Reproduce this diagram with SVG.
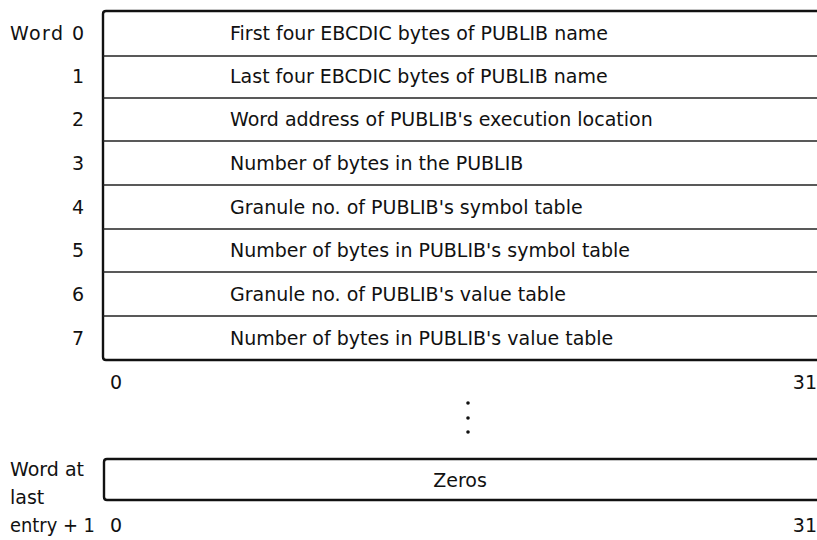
<svg xmlns="http://www.w3.org/2000/svg" width="817" height="540" viewBox="0 0 817 540">
<style>
text{font-family:"DejaVu Sans","Liberation Sans",sans-serif;font-size:19px;fill:#111}
.b{fill:none;stroke:#111;stroke-width:2.4}
.r{stroke:#222;stroke-width:1.6}
.e{text-anchor:end}
</style>
<rect width="817" height="540" fill="#fff"/>
<g id="table">
<path class="b" d="M820 11 H106 Q103 11 103 14 V357 Q103 360 106 360 H820"/>
<g id="dividers">
<line class="r" x1="103" y1="56" x2="817" y2="56"/>
<line class="r" x1="103" y1="98" x2="817" y2="98"/>
<line class="r" x1="103" y1="141" x2="817" y2="141"/>
<line class="r" x1="103" y1="185" x2="817" y2="185"/>
<line class="r" x1="103" y1="229" x2="817" y2="229"/>
<line class="r" x1="103" y1="272" x2="817" y2="272"/>
<line class="r" x1="103" y1="316" x2="817" y2="316"/>
</g>
</g>
<g id="w0"><text x="10" y="40" textLength="74" lengthAdjust="spacing">Word 0</text><text x="230" y="40">First four EBCDIC bytes of PUBLIB name</text></g>
<g id="w1"><text class="e" x="84" y="83">1</text><text x="230" y="83">Last four EBCDIC bytes of PUBLIB name</text></g>
<g id="w2"><text class="e" x="84" y="126">2</text><text x="230" y="126">Word address of PUBLIB's execution location</text></g>
<g id="w3"><text class="e" x="84" y="170">3</text><text x="230" y="170">Number of bytes in the PUBLIB</text></g>
<g id="w4"><text class="e" x="84" y="214">4</text><text x="230" y="214">Granule no. of PUBLIB's symbol table</text></g>
<g id="w5"><text class="e" x="84" y="257">5</text><text x="230" y="257">Number of bytes in PUBLIB's symbol table</text></g>
<g id="w6"><text class="e" x="84" y="301">6</text><text x="230" y="301">Granule no. of PUBLIB's value table</text></g>
<g id="w7"><text class="e" x="84" y="345">7</text><text x="230" y="345">Number of bytes in PUBLIB's value table</text></g>
<text x="110" y="389">0</text>
<text class="e" x="817" y="389">31</text>
<g id="dots" fill="#111">
<circle cx="468" cy="403" r="1.8"/>
<circle cx="468" cy="418" r="1.8"/>
<circle cx="468" cy="432" r="1.8"/>
</g>
<g id="last">
<path class="b" d="M820 459 H107 Q104 459 104 462 V497 Q104 500 107 500 H820"/>
<text x="460" y="487" text-anchor="middle">Zeros</text>
<text x="10" y="476">Word at</text>
<text x="10" y="504">last</text>
<text x="10" y="532" textLength="85" lengthAdjust="spacingAndGlyphs">entry + 1</text>
<text x="110" y="532">0</text>
<text class="e" x="817" y="532">31</text>
</g>
</svg>
